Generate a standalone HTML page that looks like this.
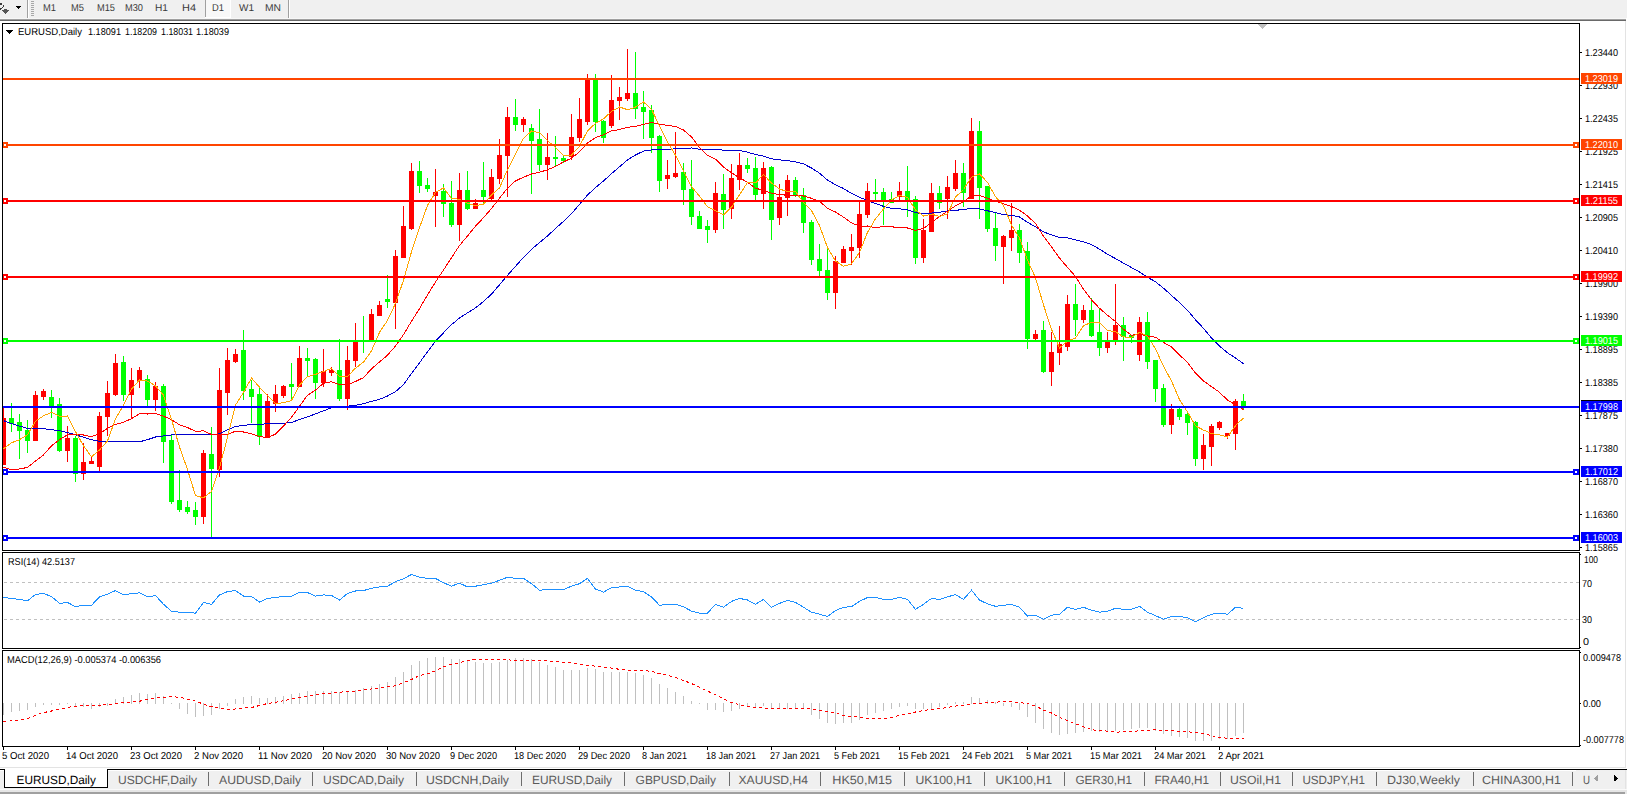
<!DOCTYPE html><html><head><meta charset="utf-8"><style>html,body{margin:0;padding:0;width:1627px;height:794px;overflow:hidden;background:#fff}text{font-family:"Liberation Sans", sans-serif;text-rendering:geometricPrecision}</style></head><body><svg width="1627" height="794" viewBox="0 0 1627 794" shape-rendering="crispEdges" style="position:absolute;left:0;top:0;font-family:'Liberation Sans', sans-serif">
<rect x="0" y="0" width="1627" height="794" fill="#ffffff"/>
<rect x="0" y="0" width="1627" height="18" fill="#F0F0F0"/>
<rect x="0" y="18" width="1626" height="1" fill="#F7F7F7"/>
<rect x="0" y="19" width="1626" height="1" fill="#A0A0A0"/>
<rect x="0" y="20" width="1626" height="1" fill="#696969"/>
<rect x="0" y="3" width="2" height="2" fill="#3C3C3C"/>
<rect x="3" y="5" width="1" height="2" fill="#3C3C3C"/>
<rect x="2" y="7" width="1" height="1" fill="#3C3C3C"/>
<rect x="1" y="8" width="1" height="1" fill="#3C3C3C"/>
<rect x="0" y="8" width="1" height="2" fill="#3C3C3C"/>
<rect x="4" y="9" width="3" height="1" fill="#555"/>
<rect x="2" y="10" width="7" height="1" fill="#555"/>
<rect x="3" y="11" width="5" height="1" fill="#555"/>
<rect x="4" y="12" width="3" height="1" fill="#555"/>
<rect x="5" y="13" width="1" height="1" fill="#555"/>
<path d="M16 6 H21 V7 H20 V8 H19 V9 H18 V8 H17 V7 H16 Z" fill="#000"/>
<rect x="27" y="0" width="1" height="18" fill="#A0A0A0"/>
<rect x="28" y="0" width="1" height="18" fill="#FFFFFF"/>
<rect x="31" y="1" width="3" height="1" fill="#A8A8A8"/>
<rect x="31" y="3" width="3" height="1" fill="#A8A8A8"/>
<rect x="31" y="5" width="3" height="1" fill="#A8A8A8"/>
<rect x="31" y="7" width="3" height="1" fill="#A8A8A8"/>
<rect x="31" y="9" width="3" height="1" fill="#A8A8A8"/>
<rect x="31" y="11" width="3" height="1" fill="#A8A8A8"/>
<rect x="31" y="13" width="3" height="1" fill="#A8A8A8"/>
<rect x="31" y="15" width="3" height="1" fill="#A8A8A8"/>
<rect x="205" y="0" width="1" height="17" fill="#A0A0A0"/>
<rect x="206" y="0" width="24" height="17" fill="#F8F8F8"/>
<rect x="230" y="0" width="1" height="18" fill="#FFFFFF"/>
<rect x="205" y="17" width="26" height="1" fill="#FFFFFF"/>
<rect x="288" y="0" width="1" height="18" fill="#A0A0A0"/>
<rect x="289" y="0" width="1" height="18" fill="#FFFFFF"/>
<text x="43.0" y="11" font-size="10" fill="#3A3A3A" textLength="12.99" lengthAdjust="spacingAndGlyphs">M1</text>
<text x="71.0" y="11" font-size="10" fill="#3A3A3A" textLength="12.99" lengthAdjust="spacingAndGlyphs">M5</text>
<text x="97.0" y="11" font-size="10" fill="#3A3A3A" textLength="18.0" lengthAdjust="spacingAndGlyphs">M15</text>
<text x="125.0" y="11" font-size="10" fill="#3A3A3A" textLength="18.0" lengthAdjust="spacingAndGlyphs">M30</text>
<text x="155.0" y="11" font-size="10" fill="#3A3A3A" textLength="12.98" lengthAdjust="spacingAndGlyphs">H1</text>
<text x="182.0" y="11" font-size="10" fill="#3A3A3A" textLength="13.98" lengthAdjust="spacingAndGlyphs">H4</text>
<text x="212.0" y="11" font-size="10" fill="#3A3A3A" textLength="11.98" lengthAdjust="spacingAndGlyphs">D1</text>
<text x="239.0" y="11" font-size="10" fill="#3A3A3A" textLength="15.0" lengthAdjust="spacingAndGlyphs">W1</text>
<text x="265.0" y="11" font-size="10" fill="#3A3A3A" textLength="16.0" lengthAdjust="spacingAndGlyphs">MN</text>
<rect x="1625" y="21" width="1" height="746" fill="#E3E3E3"/>
<defs><clipPath id="cm"><rect x="3" y="24" width="1576" height="526"/></clipPath><clipPath id="cr"><rect x="3" y="553" width="1576" height="95"/></clipPath><clipPath id="cd"><rect x="3" y="651" width="1576" height="95"/></clipPath></defs>
<g clip-path="url(#cm)">
<rect x="3" y="408" width="1" height="57" fill="#FF0000"/>
<rect x="1" y="418" width="5" height="47" fill="#FF0000"/>
<rect x="11" y="403" width="1" height="29" fill="#00FF00"/>
<rect x="9" y="418" width="5" height="6" fill="#00FF00"/>
<rect x="19" y="414" width="1" height="45" fill="#00FF00"/>
<rect x="17" y="422" width="5" height="9" fill="#00FF00"/>
<rect x="27" y="420" width="1" height="33" fill="#00FF00"/>
<rect x="25" y="430" width="5" height="11" fill="#00FF00"/>
<rect x="35" y="391" width="1" height="50" fill="#FF0000"/>
<rect x="33" y="395" width="5" height="46" fill="#FF0000"/>
<rect x="43" y="389" width="1" height="11" fill="#FF0000"/>
<rect x="41" y="391" width="5" height="6" fill="#FF0000"/>
<rect x="51" y="390" width="1" height="28" fill="#00FF00"/>
<rect x="49" y="397" width="5" height="10" fill="#00FF00"/>
<rect x="59" y="398" width="1" height="54" fill="#00FF00"/>
<rect x="57" y="404" width="5" height="47" fill="#00FF00"/>
<rect x="67" y="426" width="1" height="36" fill="#FF0000"/>
<rect x="65" y="438" width="5" height="13" fill="#FF0000"/>
<rect x="75" y="436" width="1" height="46" fill="#00FF00"/>
<rect x="73" y="438" width="5" height="36" fill="#00FF00"/>
<rect x="83" y="443" width="1" height="37" fill="#FF0000"/>
<rect x="81" y="462" width="5" height="12" fill="#FF0000"/>
<rect x="91" y="456" width="1" height="8" fill="#FF0000"/>
<rect x="89" y="461" width="5" height="3" fill="#FF0000"/>
<rect x="99" y="412" width="1" height="60" fill="#FF0000"/>
<rect x="97" y="416" width="5" height="51" fill="#FF0000"/>
<rect x="107" y="381" width="1" height="55" fill="#FF0000"/>
<rect x="105" y="393" width="5" height="24" fill="#FF0000"/>
<rect x="115" y="354" width="1" height="42" fill="#FF0000"/>
<rect x="113" y="363" width="5" height="32" fill="#FF0000"/>
<rect x="123" y="356" width="1" height="45" fill="#00FF00"/>
<rect x="121" y="362" width="5" height="33" fill="#00FF00"/>
<rect x="131" y="368" width="1" height="50" fill="#FF0000"/>
<rect x="129" y="380" width="5" height="15" fill="#FF0000"/>
<rect x="139" y="367" width="1" height="21" fill="#FF0000"/>
<rect x="137" y="370" width="5" height="11" fill="#FF0000"/>
<rect x="147" y="375" width="1" height="32" fill="#00FF00"/>
<rect x="145" y="379" width="5" height="21" fill="#00FF00"/>
<rect x="155" y="382" width="1" height="29" fill="#FF0000"/>
<rect x="153" y="386" width="5" height="14" fill="#FF0000"/>
<rect x="163" y="384" width="1" height="79" fill="#00FF00"/>
<rect x="161" y="386" width="5" height="56" fill="#00FF00"/>
<rect x="171" y="434" width="1" height="70" fill="#00FF00"/>
<rect x="169" y="440" width="5" height="62" fill="#00FF00"/>
<rect x="179" y="470" width="1" height="42" fill="#00FF00"/>
<rect x="177" y="500" width="5" height="10" fill="#00FF00"/>
<rect x="187" y="501" width="1" height="13" fill="#00FF00"/>
<rect x="185" y="507" width="5" height="5" fill="#00FF00"/>
<rect x="195" y="502" width="1" height="23" fill="#00FF00"/>
<rect x="193" y="510" width="5" height="7" fill="#00FF00"/>
<rect x="203" y="450" width="1" height="74" fill="#FF0000"/>
<rect x="201" y="453" width="5" height="64" fill="#FF0000"/>
<rect x="211" y="427" width="1" height="111" fill="#00FF00"/>
<rect x="209" y="454" width="5" height="15" fill="#00FF00"/>
<rect x="219" y="368" width="1" height="109" fill="#FF0000"/>
<rect x="217" y="390" width="5" height="80" fill="#FF0000"/>
<rect x="227" y="348" width="1" height="67" fill="#FF0000"/>
<rect x="225" y="360" width="5" height="33" fill="#FF0000"/>
<rect x="235" y="349" width="1" height="14" fill="#FF0000"/>
<rect x="233" y="354" width="5" height="8" fill="#FF0000"/>
<rect x="243" y="330" width="1" height="70" fill="#00FF00"/>
<rect x="241" y="350" width="5" height="41" fill="#00FF00"/>
<rect x="251" y="380" width="1" height="43" fill="#00FF00"/>
<rect x="249" y="389" width="5" height="8" fill="#00FF00"/>
<rect x="259" y="386" width="1" height="59" fill="#00FF00"/>
<rect x="257" y="394" width="5" height="43" fill="#00FF00"/>
<rect x="267" y="394" width="1" height="44" fill="#FF0000"/>
<rect x="265" y="401" width="5" height="37" fill="#FF0000"/>
<rect x="275" y="385" width="1" height="27" fill="#FF0000"/>
<rect x="273" y="394" width="5" height="10" fill="#FF0000"/>
<rect x="283" y="385" width="1" height="13" fill="#FF0000"/>
<rect x="281" y="386" width="5" height="10" fill="#FF0000"/>
<rect x="291" y="363" width="1" height="38" fill="#00FF00"/>
<rect x="289" y="384" width="5" height="3" fill="#00FF00"/>
<rect x="299" y="346" width="1" height="41" fill="#FF0000"/>
<rect x="297" y="358" width="5" height="29" fill="#FF0000"/>
<rect x="307" y="348" width="1" height="28" fill="#00FF00"/>
<rect x="305" y="358" width="5" height="3" fill="#00FF00"/>
<rect x="315" y="358" width="1" height="41" fill="#00FF00"/>
<rect x="313" y="359" width="5" height="24" fill="#00FF00"/>
<rect x="323" y="349" width="1" height="38" fill="#FF0000"/>
<rect x="321" y="371" width="5" height="12" fill="#FF0000"/>
<rect x="331" y="367" width="1" height="9" fill="#FF0000"/>
<rect x="329" y="370" width="5" height="3" fill="#FF0000"/>
<rect x="339" y="339" width="1" height="62" fill="#00FF00"/>
<rect x="337" y="370" width="5" height="29" fill="#00FF00"/>
<rect x="347" y="346" width="1" height="64" fill="#FF0000"/>
<rect x="345" y="360" width="5" height="39" fill="#FF0000"/>
<rect x="355" y="323" width="1" height="44" fill="#FF0000"/>
<rect x="353" y="342" width="5" height="19" fill="#FF0000"/>
<rect x="363" y="316" width="1" height="37" fill="#00FF00"/>
<rect x="361" y="340" width="5" height="2" fill="#00FF00"/>
<rect x="371" y="309" width="1" height="32" fill="#FF0000"/>
<rect x="369" y="314" width="5" height="27" fill="#FF0000"/>
<rect x="379" y="301" width="1" height="15" fill="#FF0000"/>
<rect x="377" y="305" width="5" height="11" fill="#FF0000"/>
<rect x="387" y="275" width="1" height="33" fill="#00FF00"/>
<rect x="385" y="299" width="5" height="3" fill="#00FF00"/>
<rect x="395" y="250" width="1" height="79" fill="#FF0000"/>
<rect x="393" y="256" width="5" height="47" fill="#FF0000"/>
<rect x="403" y="206" width="1" height="52" fill="#FF0000"/>
<rect x="401" y="226" width="5" height="32" fill="#FF0000"/>
<rect x="411" y="163" width="1" height="67" fill="#FF0000"/>
<rect x="409" y="171" width="5" height="58" fill="#FF0000"/>
<rect x="419" y="161" width="1" height="32" fill="#00FF00"/>
<rect x="417" y="171" width="5" height="15" fill="#00FF00"/>
<rect x="427" y="178" width="1" height="14" fill="#00FF00"/>
<rect x="425" y="185" width="5" height="4" fill="#00FF00"/>
<rect x="435" y="169" width="1" height="58" fill="#FF0000"/>
<rect x="433" y="192" width="5" height="4" fill="#FF0000"/>
<rect x="443" y="184" width="1" height="33" fill="#00FF00"/>
<rect x="441" y="191" width="5" height="13" fill="#00FF00"/>
<rect x="451" y="181" width="1" height="46" fill="#00FF00"/>
<rect x="449" y="203" width="5" height="22" fill="#00FF00"/>
<rect x="459" y="173" width="1" height="68" fill="#FF0000"/>
<rect x="457" y="190" width="5" height="35" fill="#FF0000"/>
<rect x="467" y="171" width="1" height="39" fill="#00FF00"/>
<rect x="465" y="190" width="5" height="19" fill="#00FF00"/>
<rect x="475" y="199" width="1" height="10" fill="#FF0000"/>
<rect x="473" y="203" width="5" height="6" fill="#FF0000"/>
<rect x="483" y="162" width="1" height="42" fill="#00FF00"/>
<rect x="481" y="190" width="5" height="7" fill="#00FF00"/>
<rect x="491" y="169" width="1" height="31" fill="#FF0000"/>
<rect x="489" y="177" width="5" height="22" fill="#FF0000"/>
<rect x="499" y="139" width="1" height="45" fill="#FF0000"/>
<rect x="497" y="155" width="5" height="24" fill="#FF0000"/>
<rect x="507" y="107" width="1" height="90" fill="#FF0000"/>
<rect x="505" y="117" width="5" height="39" fill="#FF0000"/>
<rect x="515" y="99" width="1" height="32" fill="#00FF00"/>
<rect x="513" y="117" width="5" height="8" fill="#00FF00"/>
<rect x="523" y="117" width="1" height="15" fill="#FF0000"/>
<rect x="521" y="119" width="5" height="6" fill="#FF0000"/>
<rect x="531" y="124" width="1" height="70" fill="#00FF00"/>
<rect x="529" y="128" width="5" height="13" fill="#00FF00"/>
<rect x="539" y="109" width="1" height="62" fill="#00FF00"/>
<rect x="537" y="139" width="5" height="26" fill="#00FF00"/>
<rect x="547" y="133" width="1" height="47" fill="#FF0000"/>
<rect x="545" y="157" width="5" height="8" fill="#FF0000"/>
<rect x="555" y="136" width="1" height="30" fill="#00FF00"/>
<rect x="553" y="157" width="5" height="2" fill="#00FF00"/>
<rect x="563" y="156" width="1" height="7" fill="#00FF00"/>
<rect x="561" y="158" width="5" height="3" fill="#00FF00"/>
<rect x="571" y="114" width="1" height="46" fill="#FF0000"/>
<rect x="569" y="137" width="5" height="20" fill="#FF0000"/>
<rect x="579" y="98" width="1" height="44" fill="#FF0000"/>
<rect x="577" y="119" width="5" height="19" fill="#FF0000"/>
<rect x="587" y="74" width="1" height="51" fill="#FF0000"/>
<rect x="585" y="80" width="5" height="42" fill="#FF0000"/>
<rect x="595" y="74" width="1" height="58" fill="#00FF00"/>
<rect x="593" y="80" width="5" height="42" fill="#00FF00"/>
<rect x="603" y="120" width="1" height="23" fill="#00FF00"/>
<rect x="601" y="121" width="5" height="17" fill="#00FF00"/>
<rect x="611" y="75" width="1" height="53" fill="#FF0000"/>
<rect x="609" y="100" width="5" height="26" fill="#FF0000"/>
<rect x="619" y="87" width="1" height="33" fill="#FF0000"/>
<rect x="617" y="97" width="5" height="4" fill="#FF0000"/>
<rect x="627" y="49" width="1" height="52" fill="#FF0000"/>
<rect x="625" y="93" width="5" height="6" fill="#FF0000"/>
<rect x="635" y="52" width="1" height="67" fill="#00FF00"/>
<rect x="633" y="93" width="5" height="16" fill="#00FF00"/>
<rect x="643" y="91" width="1" height="48" fill="#00FF00"/>
<rect x="641" y="107" width="5" height="5" fill="#00FF00"/>
<rect x="651" y="105" width="1" height="48" fill="#00FF00"/>
<rect x="649" y="110" width="5" height="28" fill="#00FF00"/>
<rect x="659" y="135" width="1" height="57" fill="#00FF00"/>
<rect x="657" y="136" width="5" height="45" fill="#00FF00"/>
<rect x="667" y="160" width="1" height="29" fill="#FF0000"/>
<rect x="665" y="175" width="5" height="4" fill="#FF0000"/>
<rect x="675" y="132" width="1" height="46" fill="#FF0000"/>
<rect x="673" y="173" width="5" height="4" fill="#FF0000"/>
<rect x="683" y="163" width="1" height="42" fill="#00FF00"/>
<rect x="681" y="172" width="5" height="18" fill="#00FF00"/>
<rect x="691" y="160" width="1" height="65" fill="#00FF00"/>
<rect x="689" y="189" width="5" height="28" fill="#00FF00"/>
<rect x="699" y="211" width="1" height="18" fill="#00FF00"/>
<rect x="697" y="216" width="5" height="13" fill="#00FF00"/>
<rect x="707" y="220" width="1" height="23" fill="#00FF00"/>
<rect x="705" y="226" width="5" height="4" fill="#00FF00"/>
<rect x="715" y="182" width="1" height="51" fill="#FF0000"/>
<rect x="713" y="193" width="5" height="37" fill="#FF0000"/>
<rect x="723" y="174" width="1" height="55" fill="#00FF00"/>
<rect x="721" y="194" width="5" height="16" fill="#00FF00"/>
<rect x="731" y="164" width="1" height="55" fill="#FF0000"/>
<rect x="729" y="178" width="5" height="31" fill="#FF0000"/>
<rect x="739" y="153" width="1" height="37" fill="#FF0000"/>
<rect x="737" y="165" width="5" height="15" fill="#FF0000"/>
<rect x="747" y="158" width="1" height="15" fill="#00FF00"/>
<rect x="745" y="165" width="5" height="4" fill="#00FF00"/>
<rect x="755" y="157" width="1" height="44" fill="#00FF00"/>
<rect x="753" y="168" width="5" height="27" fill="#00FF00"/>
<rect x="763" y="162" width="1" height="47" fill="#FF0000"/>
<rect x="761" y="168" width="5" height="26" fill="#FF0000"/>
<rect x="771" y="166" width="1" height="74" fill="#00FF00"/>
<rect x="769" y="167" width="5" height="53" fill="#00FF00"/>
<rect x="779" y="184" width="1" height="41" fill="#FF0000"/>
<rect x="777" y="197" width="5" height="21" fill="#FF0000"/>
<rect x="787" y="175" width="1" height="41" fill="#FF0000"/>
<rect x="785" y="180" width="5" height="18" fill="#FF0000"/>
<rect x="795" y="177" width="1" height="20" fill="#00FF00"/>
<rect x="793" y="180" width="5" height="16" fill="#00FF00"/>
<rect x="803" y="188" width="1" height="45" fill="#00FF00"/>
<rect x="801" y="195" width="5" height="28" fill="#00FF00"/>
<rect x="811" y="220" width="1" height="45" fill="#00FF00"/>
<rect x="809" y="222" width="5" height="38" fill="#00FF00"/>
<rect x="819" y="244" width="1" height="32" fill="#00FF00"/>
<rect x="817" y="259" width="5" height="12" fill="#00FF00"/>
<rect x="827" y="249" width="1" height="51" fill="#00FF00"/>
<rect x="825" y="270" width="5" height="23" fill="#00FF00"/>
<rect x="835" y="256" width="1" height="53" fill="#FF0000"/>
<rect x="833" y="261" width="5" height="32" fill="#FF0000"/>
<rect x="843" y="246" width="1" height="17" fill="#FF0000"/>
<rect x="841" y="249" width="5" height="14" fill="#FF0000"/>
<rect x="851" y="234" width="1" height="31" fill="#FF0000"/>
<rect x="849" y="247" width="5" height="4" fill="#FF0000"/>
<rect x="859" y="202" width="1" height="56" fill="#FF0000"/>
<rect x="857" y="214" width="5" height="34" fill="#FF0000"/>
<rect x="867" y="183" width="1" height="35" fill="#FF0000"/>
<rect x="865" y="191" width="5" height="24" fill="#FF0000"/>
<rect x="875" y="179" width="1" height="22" fill="#00FF00"/>
<rect x="873" y="192" width="5" height="2" fill="#00FF00"/>
<rect x="883" y="188" width="1" height="37" fill="#00FF00"/>
<rect x="881" y="192" width="5" height="9" fill="#00FF00"/>
<rect x="891" y="192" width="1" height="11" fill="#00FF00"/>
<rect x="889" y="199" width="5" height="4" fill="#00FF00"/>
<rect x="899" y="182" width="1" height="18" fill="#FF0000"/>
<rect x="897" y="191" width="5" height="6" fill="#FF0000"/>
<rect x="907" y="166" width="1" height="51" fill="#00FF00"/>
<rect x="905" y="191" width="5" height="10" fill="#00FF00"/>
<rect x="915" y="196" width="1" height="68" fill="#00FF00"/>
<rect x="913" y="199" width="5" height="59" fill="#00FF00"/>
<rect x="923" y="219" width="1" height="44" fill="#FF0000"/>
<rect x="921" y="230" width="5" height="28" fill="#FF0000"/>
<rect x="931" y="183" width="1" height="49" fill="#FF0000"/>
<rect x="929" y="193" width="5" height="39" fill="#FF0000"/>
<rect x="939" y="186" width="1" height="23" fill="#00FF00"/>
<rect x="937" y="193" width="5" height="10" fill="#00FF00"/>
<rect x="947" y="176" width="1" height="43" fill="#FF0000"/>
<rect x="945" y="187" width="5" height="12" fill="#FF0000"/>
<rect x="955" y="160" width="1" height="31" fill="#FF0000"/>
<rect x="953" y="173" width="5" height="16" fill="#FF0000"/>
<rect x="963" y="163" width="1" height="44" fill="#00FF00"/>
<rect x="961" y="173" width="5" height="20" fill="#00FF00"/>
<rect x="971" y="118" width="1" height="81" fill="#FF0000"/>
<rect x="969" y="131" width="5" height="68" fill="#FF0000"/>
<rect x="979" y="121" width="1" height="98" fill="#00FF00"/>
<rect x="977" y="131" width="5" height="57" fill="#00FF00"/>
<rect x="987" y="186" width="1" height="46" fill="#00FF00"/>
<rect x="985" y="186" width="5" height="43" fill="#00FF00"/>
<rect x="995" y="212" width="1" height="49" fill="#00FF00"/>
<rect x="993" y="228" width="5" height="18" fill="#00FF00"/>
<rect x="1003" y="235" width="1" height="49" fill="#FF0000"/>
<rect x="1001" y="236" width="5" height="11" fill="#FF0000"/>
<rect x="1011" y="203" width="1" height="48" fill="#FF0000"/>
<rect x="1009" y="230" width="5" height="8" fill="#FF0000"/>
<rect x="1019" y="224" width="1" height="39" fill="#00FF00"/>
<rect x="1017" y="230" width="5" height="23" fill="#00FF00"/>
<rect x="1027" y="242" width="1" height="107" fill="#00FF00"/>
<rect x="1025" y="251" width="5" height="88" fill="#00FF00"/>
<rect x="1035" y="330" width="1" height="11" fill="#FF0000"/>
<rect x="1033" y="334" width="5" height="5" fill="#FF0000"/>
<rect x="1043" y="321" width="1" height="52" fill="#00FF00"/>
<rect x="1041" y="330" width="5" height="42" fill="#00FF00"/>
<rect x="1051" y="332" width="1" height="54" fill="#FF0000"/>
<rect x="1049" y="352" width="5" height="20" fill="#FF0000"/>
<rect x="1059" y="326" width="1" height="39" fill="#FF0000"/>
<rect x="1057" y="344" width="5" height="9" fill="#FF0000"/>
<rect x="1067" y="295" width="1" height="56" fill="#FF0000"/>
<rect x="1065" y="304" width="5" height="43" fill="#FF0000"/>
<rect x="1075" y="284" width="1" height="52" fill="#00FF00"/>
<rect x="1073" y="304" width="5" height="16" fill="#00FF00"/>
<rect x="1083" y="305" width="1" height="18" fill="#FF0000"/>
<rect x="1081" y="310" width="5" height="10" fill="#FF0000"/>
<rect x="1091" y="298" width="1" height="39" fill="#00FF00"/>
<rect x="1089" y="310" width="5" height="26" fill="#00FF00"/>
<rect x="1099" y="308" width="1" height="48" fill="#00FF00"/>
<rect x="1097" y="332" width="5" height="16" fill="#00FF00"/>
<rect x="1107" y="332" width="1" height="21" fill="#FF0000"/>
<rect x="1105" y="342" width="5" height="6" fill="#FF0000"/>
<rect x="1115" y="284" width="1" height="61" fill="#FF0000"/>
<rect x="1113" y="325" width="5" height="16" fill="#FF0000"/>
<rect x="1123" y="317" width="1" height="44" fill="#00FF00"/>
<rect x="1121" y="325" width="5" height="12" fill="#00FF00"/>
<rect x="1131" y="335" width="1" height="8" fill="#00FF00"/>
<rect x="1129" y="335" width="5" height="3" fill="#00FF00"/>
<rect x="1139" y="317" width="1" height="44" fill="#FF0000"/>
<rect x="1137" y="322" width="5" height="33" fill="#FF0000"/>
<rect x="1147" y="312" width="1" height="57" fill="#00FF00"/>
<rect x="1145" y="322" width="5" height="40" fill="#00FF00"/>
<rect x="1155" y="360" width="1" height="42" fill="#00FF00"/>
<rect x="1153" y="360" width="5" height="29" fill="#00FF00"/>
<rect x="1163" y="384" width="1" height="43" fill="#00FF00"/>
<rect x="1161" y="388" width="5" height="37" fill="#00FF00"/>
<rect x="1171" y="404" width="1" height="30" fill="#FF0000"/>
<rect x="1169" y="409" width="5" height="16" fill="#FF0000"/>
<rect x="1179" y="408" width="1" height="12" fill="#00FF00"/>
<rect x="1177" y="409" width="5" height="8" fill="#00FF00"/>
<rect x="1187" y="412" width="1" height="23" fill="#00FF00"/>
<rect x="1185" y="414" width="5" height="9" fill="#00FF00"/>
<rect x="1195" y="421" width="1" height="45" fill="#00FF00"/>
<rect x="1193" y="422" width="5" height="37" fill="#00FF00"/>
<rect x="1203" y="434" width="1" height="36" fill="#FF0000"/>
<rect x="1201" y="445" width="5" height="14" fill="#FF0000"/>
<rect x="1211" y="424" width="1" height="42" fill="#FF0000"/>
<rect x="1209" y="426" width="5" height="21" fill="#FF0000"/>
<rect x="1219" y="421" width="1" height="9" fill="#FF0000"/>
<rect x="1217" y="422" width="5" height="6" fill="#FF0000"/>
<rect x="1227" y="433" width="1" height="6" fill="#FF0000"/>
<rect x="1225" y="433" width="5" height="3" fill="#FF0000"/>
<rect x="1235" y="399" width="1" height="51" fill="#FF0000"/>
<rect x="1233" y="401" width="5" height="33" fill="#FF0000"/>
<rect x="1243" y="394" width="1" height="15" fill="#00FF00"/>
<rect x="1241" y="401" width="5" height="6" fill="#00FF00"/>
<polyline points="3.5,420.6 11.5,423.6 19.5,426.2 27.5,428.3 35.5,428.7 43.5,428.7 51.5,429.7 59.5,430.7 67.5,432.7 75.5,434.7 83.5,437.3 91.5,439.7 99.5,441.2 107.5,441.8 115.5,441.8 123.5,441.8 131.5,441.8 139.5,441.8 147.5,439.7 155.5,437.0 163.5,436.0 171.5,435.0 179.5,434.5 187.5,434.5 195.5,434.5 203.5,434.5 211.5,434.5 219.5,433.9 227.5,429.8 235.5,426.4 243.5,425.4 251.5,424.5 259.5,424.7 267.5,423.4 275.5,423.4 283.5,423.2 291.5,422.5 299.5,419.5 307.5,416.9 315.5,413.9 323.5,410.8 331.5,407.8 339.5,407.2 347.5,406.1 355.5,405.4 363.5,403.6 371.5,401.4 379.5,399.3 387.5,396.0 395.5,391.7 403.5,384.5 411.5,373.5 419.5,362.7 427.5,352.0 435.5,341.1 443.5,332.8 451.5,324.7 459.5,318.0 467.5,312.9 475.5,307.9 483.5,301.5 491.5,294.1 499.5,284.8 507.5,275.3 515.5,266.3 523.5,257.4 531.5,249.2 539.5,242.7 547.5,235.9 555.5,228.5 563.5,221.4 571.5,213.7 579.5,204.4 587.5,195.0 595.5,187.7 603.5,180.9 611.5,173.7 619.5,166.8 627.5,159.9 635.5,155.0 643.5,151.1 651.5,150.0 659.5,149.8 667.5,149.4 675.5,148.8 683.5,148.3 691.5,148.0 699.5,149.3 707.5,150.0 715.5,149.6 723.5,150.1 731.5,150.1 739.5,150.4 747.5,152.2 755.5,154.5 763.5,156.1 771.5,158.8 779.5,159.9 787.5,160.6 795.5,161.9 803.5,163.9 811.5,168.0 819.5,173.1 827.5,180.1 835.5,184.8 843.5,188.5 851.5,193.4 859.5,197.3 867.5,200.6 875.5,203.4 883.5,206.4 891.5,208.5 899.5,208.9 907.5,209.7 915.5,212.5 923.5,213.9 931.5,213.1 939.5,212.3 947.5,210.9 955.5,210.2 963.5,209.7 971.5,208.1 979.5,208.8 987.5,210.8 995.5,212.5 1003.5,214.8 1011.5,215.2 1019.5,217.0 1027.5,222.3 1035.5,226.9 1043.5,231.9 1051.5,234.9 1059.5,237.4 1067.5,237.8 1075.5,239.8 1083.5,241.8 1091.5,244.7 1099.5,249.1 1107.5,254.2 1115.5,258.6 1123.5,263.1 1131.5,267.6 1139.5,272.0 1147.5,277.3 1155.5,281.7 1163.5,288.2 1171.5,295.4 1179.5,302.5 1187.5,310.3 1195.5,319.8 1203.5,328.3 1211.5,338.1 1219.5,346.0 1227.5,352.8 1235.5,358.0 1243.5,363.7" fill="none" stroke="#0000CD" stroke-width="1"/>
<polyline points="3.5,467.0 11.5,470.0 19.5,469.0 27.5,467.4 35.5,461.0 43.5,454.9 51.5,445.8 59.5,439.7 67.5,434.7 75.5,434.7 83.5,435.0 91.5,436.7 99.5,433.7 107.5,428.3 115.5,424.3 123.5,422.3 131.5,418.7 139.5,413.7 147.5,414.0 155.5,413.6 163.5,416.1 171.5,419.7 179.5,424.8 187.5,427.5 195.5,431.4 203.5,430.8 211.5,434.5 219.5,434.3 227.5,434.1 235.5,431.3 243.5,432.0 251.5,433.8 259.5,436.5 267.5,437.6 275.5,434.2 283.5,426.1 291.5,417.2 299.5,406.3 307.5,395.2 315.5,390.1 323.5,383.2 331.5,381.8 339.5,384.4 347.5,384.9 355.5,381.5 363.5,377.6 371.5,368.8 379.5,361.9 387.5,355.2 395.5,346.0 403.5,334.6 411.5,321.2 419.5,308.7 427.5,294.8 435.5,282.0 443.5,270.1 451.5,257.7 459.5,245.5 467.5,236.0 475.5,226.1 483.5,217.7 491.5,208.6 499.5,198.2 507.5,188.2 515.5,180.9 523.5,177.2 531.5,174.0 539.5,172.2 547.5,169.8 555.5,166.5 563.5,161.9 571.5,158.2 579.5,151.8 587.5,143.0 595.5,137.7 603.5,134.8 611.5,130.9 619.5,129.5 627.5,127.3 635.5,126.5 643.5,124.4 651.5,122.5 659.5,124.2 667.5,125.4 675.5,126.4 683.5,130.0 691.5,137.0 699.5,147.5 707.5,155.2 715.5,159.2 723.5,167.0 731.5,172.8 739.5,177.9 747.5,182.2 755.5,188.2 763.5,190.3 771.5,193.1 779.5,194.7 787.5,195.2 795.5,195.6 803.5,196.0 811.5,198.3 819.5,201.3 827.5,208.3 835.5,212.0 843.5,217.1 851.5,222.9 859.5,226.2 867.5,226.0 875.5,227.8 883.5,226.5 891.5,226.8 899.5,227.6 907.5,228.0 915.5,230.5 923.5,228.3 931.5,222.8 939.5,216.5 947.5,211.2 955.5,205.8 963.5,201.8 971.5,195.9 979.5,195.6 987.5,198.2 995.5,201.3 1003.5,203.8 1011.5,206.5 1019.5,210.2 1027.5,216.0 1035.5,223.5 1043.5,236.2 1051.5,246.9 1059.5,258.1 1067.5,267.4 1075.5,276.5 1083.5,289.3 1091.5,299.8 1099.5,308.3 1107.5,315.2 1115.5,321.6 1123.5,329.2 1131.5,335.3 1139.5,334.1 1147.5,336.0 1155.5,337.2 1163.5,342.4 1171.5,347.0 1179.5,355.0 1187.5,362.4 1195.5,373.0 1203.5,380.9 1211.5,386.6 1219.5,392.3 1227.5,400.1 1235.5,404.7 1243.5,409.6" fill="none" stroke="#FF0000" stroke-width="1"/>
<polyline points="3.5,448.8 11.5,442.8 19.5,439.7 27.5,434.7 35.5,421.2 43.5,415.8 51.5,412.4 59.5,416.4 67.5,416.0 75.5,431.6 83.5,445.8 91.5,456.8 99.5,450.0 107.5,441.0 115.5,418.9 123.5,405.3 131.5,389.1 139.5,379.9 147.5,381.1 155.5,385.8 163.5,395.2 171.5,419.3 179.5,447.1 187.5,469.5 195.5,495.5 203.5,497.9 211.5,491.4 219.5,467.7 227.5,437.5 235.5,405.1 243.5,392.4 251.5,378.0 259.5,387.2 267.5,395.4 275.5,403.5 283.5,402.8 291.5,400.6 299.5,384.9 307.5,376.7 315.5,374.4 323.5,371.5 331.5,368.4 339.5,376.3 347.5,376.3 355.5,368.2 363.5,362.1 371.5,350.9 379.5,332.3 387.5,320.5 395.5,303.3 403.5,280.3 411.5,251.8 419.5,227.8 427.5,205.3 435.5,192.4 443.5,187.9 451.5,198.4 459.5,199.3 467.5,203.3 475.5,205.7 483.5,204.2 491.5,194.8 499.5,187.9 507.5,169.7 515.5,153.8 523.5,138.4 531.5,131.0 539.5,132.7 547.5,140.6 555.5,147.5 563.5,155.6 571.5,155.1 579.5,146.2 587.5,130.8 595.5,123.4 603.5,118.9 611.5,111.4 619.5,107.0 627.5,109.7 635.5,107.1 643.5,101.9 651.5,109.3 659.5,125.8 667.5,142.2 675.5,155.2 683.5,170.8 691.5,186.6 699.5,196.2 707.5,206.9 715.5,210.9 723.5,214.9 731.5,207.2 739.5,194.7 747.5,182.6 755.5,182.9 763.5,174.7 771.5,182.9 779.5,189.1 787.5,191.5 795.5,191.6 803.5,202.5 811.5,210.6 819.5,225.4 827.5,247.7 835.5,260.9 843.5,266.3 851.5,263.8 859.5,252.5 867.5,232.3 875.5,218.8 883.5,209.0 891.5,200.0 899.5,195.5 907.5,197.3 915.5,210.0 923.5,216.0 931.5,214.1 939.5,216.5 947.5,213.8 955.5,197.1 963.5,189.5 971.5,177.1 979.5,174.0 987.5,182.3 995.5,196.7 1003.5,205.4 1011.5,225.2 1019.5,238.1 1027.5,260.1 1035.5,277.9 1043.5,304.9 1051.5,329.4 1059.5,348.0 1067.5,341.0 1075.5,338.0 1083.5,325.8 1091.5,322.3 1099.5,322.8 1107.5,330.5 1115.5,331.7 1123.5,336.9 1131.5,337.4 1139.5,332.4 1147.5,336.1 1155.5,348.8 1163.5,366.4 1171.5,380.9 1179.5,399.7 1187.5,412.0 1195.5,425.9 1203.5,430.1 1211.5,433.5 1219.5,434.9 1227.5,437.0 1235.5,425.7 1243.5,417.9" fill="none" stroke="#FFA500" stroke-width="1"/>
<rect x="3" y="78" width="1576" height="2" fill="#FF4500"/>
<rect x="3" y="144" width="1576" height="2" fill="#FF4500"/>
<rect x="2" y="142" width="6" height="6" fill="#FF4500"/>
<rect x="4" y="144" width="2" height="2" fill="#FFFFFF"/>
<rect x="1573" y="142" width="6" height="6" fill="#FF4500"/>
<rect x="1575" y="144" width="2" height="2" fill="#FFFFFF"/>
<rect x="3" y="200" width="1576" height="2" fill="#FF0000"/>
<rect x="2" y="198" width="6" height="6" fill="#FF0000"/>
<rect x="4" y="200" width="2" height="2" fill="#FFFFFF"/>
<rect x="1573" y="198" width="6" height="6" fill="#FF0000"/>
<rect x="1575" y="200" width="2" height="2" fill="#FFFFFF"/>
<rect x="3" y="276" width="1576" height="2" fill="#FF0000"/>
<rect x="2" y="274" width="6" height="6" fill="#FF0000"/>
<rect x="4" y="276" width="2" height="2" fill="#FFFFFF"/>
<rect x="1573" y="274" width="6" height="6" fill="#FF0000"/>
<rect x="1575" y="276" width="2" height="2" fill="#FFFFFF"/>
<rect x="3" y="340" width="1576" height="2" fill="#00FF00"/>
<rect x="2" y="338" width="6" height="6" fill="#00FF00"/>
<rect x="4" y="340" width="2" height="2" fill="#FFFFFF"/>
<rect x="1573" y="338" width="6" height="6" fill="#00FF00"/>
<rect x="1575" y="340" width="2" height="2" fill="#FFFFFF"/>
<rect x="3" y="406" width="1576" height="2" fill="#0000FF"/>
<rect x="3" y="471" width="1576" height="2" fill="#0000FF"/>
<rect x="2" y="469" width="6" height="6" fill="#0000FF"/>
<rect x="4" y="471" width="2" height="2" fill="#FFFFFF"/>
<rect x="1573" y="469" width="6" height="6" fill="#0000FF"/>
<rect x="1575" y="471" width="2" height="2" fill="#FFFFFF"/>
<rect x="3" y="537" width="1576" height="2" fill="#0000FF"/>
<rect x="2" y="535" width="6" height="6" fill="#0000FF"/>
<rect x="4" y="537" width="2" height="2" fill="#FFFFFF"/>
<rect x="1573" y="535" width="6" height="6" fill="#0000FF"/>
<rect x="1575" y="537" width="2" height="2" fill="#FFFFFF"/>
<path d="M1258 24 H1267 V25 H1266 V26 H1265 V27 H1264 V28 H1263 V29 H1262 V28 H1261 V27 H1260 V26 H1259 V25 H1258 Z" fill="#C0C0C0"/>
</g>
<rect x="2" y="23" width="1578" height="1" fill="#000"/>
<rect x="2" y="550" width="1578" height="1" fill="#000"/>
<rect x="2" y="23" width="1" height="528" fill="#000"/>
<rect x="1579" y="23" width="1" height="528" fill="#000"/>
<path d="M6 30 H13 V31 H12 V32 H11 V33 H10 V34 H9 V33 H8 V32 H7 V31 H6 Z" fill="#000"/>
<text x="18.0" y="35" font-size="10" fill="#000" textLength="63.98" lengthAdjust="spacingAndGlyphs">EURUSD,Daily</text>
<text x="88.0" y="35" font-size="10" fill="#000" textLength="33.0" lengthAdjust="spacingAndGlyphs">1.18091</text>
<text x="125.0" y="35" font-size="10" fill="#000" textLength="32.0" lengthAdjust="spacingAndGlyphs">1.18209</text>
<text x="161.0" y="35" font-size="10" fill="#000" textLength="32.0" lengthAdjust="spacingAndGlyphs">1.18031</text>
<text x="196.0" y="35" font-size="10" fill="#000" textLength="33.0" lengthAdjust="spacingAndGlyphs">1.18039</text>
<rect x="1580" y="52" width="2" height="1" fill="#000"/>
<text x="1585.0" y="56" font-size="10" fill="#000" textLength="33.0" lengthAdjust="spacingAndGlyphs">1.23440</text>
<rect x="1580" y="85" width="2" height="1" fill="#000"/>
<text x="1585.0" y="89" font-size="10" fill="#000" textLength="33.0" lengthAdjust="spacingAndGlyphs">1.22930</text>
<rect x="1580" y="118" width="2" height="1" fill="#000"/>
<text x="1585.0" y="122" font-size="10" fill="#000" textLength="33.0" lengthAdjust="spacingAndGlyphs">1.22435</text>
<rect x="1580" y="151" width="2" height="1" fill="#000"/>
<text x="1585.0" y="155" font-size="10" fill="#000" textLength="33.0" lengthAdjust="spacingAndGlyphs">1.21925</text>
<rect x="1580" y="184" width="2" height="1" fill="#000"/>
<text x="1585.0" y="188" font-size="10" fill="#000" textLength="33.0" lengthAdjust="spacingAndGlyphs">1.21415</text>
<rect x="1580" y="217" width="2" height="1" fill="#000"/>
<text x="1585.0" y="221" font-size="10" fill="#000" textLength="33.0" lengthAdjust="spacingAndGlyphs">1.20905</text>
<rect x="1580" y="250" width="2" height="1" fill="#000"/>
<text x="1585.0" y="254" font-size="10" fill="#000" textLength="33.0" lengthAdjust="spacingAndGlyphs">1.20410</text>
<rect x="1580" y="283" width="2" height="1" fill="#000"/>
<text x="1585.0" y="287" font-size="10" fill="#000" textLength="33.0" lengthAdjust="spacingAndGlyphs">1.19900</text>
<rect x="1580" y="316" width="2" height="1" fill="#000"/>
<text x="1585.0" y="320" font-size="10" fill="#000" textLength="33.0" lengthAdjust="spacingAndGlyphs">1.19390</text>
<rect x="1580" y="349" width="2" height="1" fill="#000"/>
<text x="1585.0" y="353" font-size="10" fill="#000" textLength="33.0" lengthAdjust="spacingAndGlyphs">1.18895</text>
<rect x="1580" y="382" width="2" height="1" fill="#000"/>
<text x="1585.0" y="386" font-size="10" fill="#000" textLength="33.0" lengthAdjust="spacingAndGlyphs">1.18385</text>
<rect x="1580" y="415" width="2" height="1" fill="#000"/>
<text x="1585.0" y="419" font-size="10" fill="#000" textLength="33.0" lengthAdjust="spacingAndGlyphs">1.17875</text>
<rect x="1580" y="448" width="2" height="1" fill="#000"/>
<text x="1585.0" y="452" font-size="10" fill="#000" textLength="33.0" lengthAdjust="spacingAndGlyphs">1.17380</text>
<rect x="1580" y="481" width="2" height="1" fill="#000"/>
<text x="1585.0" y="485" font-size="10" fill="#000" textLength="33.0" lengthAdjust="spacingAndGlyphs">1.16870</text>
<rect x="1580" y="514" width="2" height="1" fill="#000"/>
<text x="1585.0" y="518" font-size="10" fill="#000" textLength="33.0" lengthAdjust="spacingAndGlyphs">1.16360</text>
<rect x="1580" y="547" width="2" height="1" fill="#000"/>
<text x="1585.0" y="551" font-size="10" fill="#000" textLength="33.0" lengthAdjust="spacingAndGlyphs">1.15865</text>
<rect x="1581" y="400" width="41" height="11" fill="#000"/>
<rect x="1581" y="73" width="41" height="11" fill="#FF4500"/>
<text x="1585.0" y="82" font-size="10" fill="#FFFFFF" textLength="33.0" lengthAdjust="spacingAndGlyphs">1.23019</text>
<rect x="1581" y="139" width="41" height="11" fill="#FF4500"/>
<text x="1585.0" y="148" font-size="10" fill="#FFFFFF" textLength="33.0" lengthAdjust="spacingAndGlyphs">1.22010</text>
<rect x="1581" y="195" width="41" height="11" fill="#FF0000"/>
<text x="1585.0" y="204" font-size="10" fill="#FFFFFF" textLength="33.01" lengthAdjust="spacingAndGlyphs">1.21155</text>
<rect x="1581" y="271" width="41" height="11" fill="#FF0000"/>
<text x="1585.0" y="280" font-size="10" fill="#FFFFFF" textLength="33.0" lengthAdjust="spacingAndGlyphs">1.19992</text>
<rect x="1581" y="335" width="41" height="11" fill="#00FF00"/>
<text x="1585.0" y="344" font-size="10" fill="#FFFFFF" textLength="33.0" lengthAdjust="spacingAndGlyphs">1.19015</text>
<rect x="1581" y="401" width="41" height="11" fill="#0000FF"/>
<text x="1585.0" y="410" font-size="10" fill="#FFFFFF" textLength="33.0" lengthAdjust="spacingAndGlyphs">1.17998</text>
<rect x="1581" y="466" width="41" height="11" fill="#0000FF"/>
<text x="1585.0" y="475" font-size="10" fill="#FFFFFF" textLength="33.0" lengthAdjust="spacingAndGlyphs">1.17012</text>
<rect x="1581" y="532" width="41" height="11" fill="#0000FF"/>
<text x="1585.0" y="541" font-size="10" fill="#FFFFFF" textLength="33.0" lengthAdjust="spacingAndGlyphs">1.16003</text>
<g clip-path="url(#cr)">
<line x1="4" y1="582.5" x2="1579" y2="582.5" stroke="#C0C0C0" stroke-width="1" stroke-dasharray="3,3"/>
<line x1="4" y1="619.5" x2="1579" y2="619.5" stroke="#C0C0C0" stroke-width="1" stroke-dasharray="3,3"/>
<polyline points="3.5,597.5 11.5,598.4 19.5,599.4 27.5,600.8 35.5,594.5 43.5,593.5 51.5,596.5 59.5,603.4 67.5,602.4 75.5,606.7 83.5,605.3 91.5,605.3 99.5,596.9 107.5,594.1 115.5,590.6 123.5,594.9 131.5,593.5 139.5,592.9 147.5,596.9 155.5,595.5 163.5,604.3 171.5,611.2 179.5,612.2 187.5,612.2 195.5,613.2 203.5,602.4 211.5,604.3 219.5,594.9 227.5,591.6 235.5,590.6 243.5,596.1 251.5,596.5 259.5,602.0 267.5,598.4 275.5,597.5 283.5,596.5 291.5,596.1 299.5,592.1 307.5,592.5 315.5,596.1 323.5,594.9 331.5,595.5 339.5,600.0 347.5,593.5 355.5,591.0 363.5,590.6 371.5,588.2 379.5,587.0 387.5,586.2 395.5,581.7 403.5,578.8 411.5,574.4 419.5,577.2 427.5,578.4 435.5,578.4 443.5,582.7 451.5,586.2 459.5,583.1 467.5,587.0 475.5,586.2 483.5,584.7 491.5,583.1 499.5,580.3 507.5,577.2 515.5,578.4 523.5,578.4 531.5,583.7 539.5,590.2 547.5,589.6 555.5,589.6 563.5,589.6 571.5,586.2 579.5,583.7 587.5,578.4 595.5,589.0 603.5,592.1 611.5,587.6 619.5,587.0 627.5,586.2 635.5,590.2 643.5,591.6 651.5,596.9 659.5,605.3 667.5,604.3 675.5,604.3 683.5,606.7 691.5,611.2 699.5,613.2 707.5,613.2 715.5,604.3 723.5,607.3 731.5,601.4 739.5,598.4 747.5,600.0 755.5,604.3 763.5,599.4 771.5,607.3 779.5,603.4 787.5,600.4 795.5,602.4 803.5,607.3 811.5,612.2 819.5,614.2 827.5,616.5 835.5,610.6 843.5,607.3 851.5,606.7 859.5,601.4 867.5,597.5 875.5,597.5 883.5,599.4 891.5,599.4 899.5,597.5 907.5,599.4 915.5,609.3 923.5,604.3 931.5,598.4 939.5,599.4 947.5,596.9 955.5,594.5 963.5,599.4 971.5,590.2 979.5,600.0 987.5,603.9 995.5,606.3 1003.5,605.3 1011.5,604.3 1019.5,607.3 1027.5,616.1 1035.5,615.2 1043.5,619.1 1051.5,615.2 1059.5,614.2 1067.5,607.3 1075.5,609.3 1083.5,607.3 1091.5,610.2 1099.5,612.2 1107.5,611.2 1115.5,608.3 1123.5,609.3 1131.5,609.3 1139.5,606.3 1147.5,612.2 1155.5,615.7 1163.5,619.1 1171.5,616.5 1179.5,616.5 1187.5,617.7 1195.5,621.6 1203.5,617.7 1211.5,614.2 1219.5,613.2 1227.5,614.2 1235.5,607.3 1243.5,608.3" fill="none" stroke="#1E90FF" stroke-width="1"/>
</g>
<rect x="2" y="552" width="1578" height="1" fill="#000"/>
<rect x="2" y="648" width="1578" height="1" fill="#000"/>
<rect x="2" y="552" width="1" height="97" fill="#000"/>
<rect x="1579" y="552" width="1" height="97" fill="#000"/>
<text x="8.0" y="565" font-size="10" fill="#000" textLength="66.98" lengthAdjust="spacingAndGlyphs">RSI(14) 42.5137</text>
<text x="1584.0" y="563" font-size="10" fill="#000" textLength="13.99" lengthAdjust="spacingAndGlyphs">100</text>
<text x="1582.0" y="587" font-size="10" fill="#000" textLength="10.02" lengthAdjust="spacingAndGlyphs">70</text>
<text x="1582.0" y="623" font-size="10" fill="#000" textLength="10.02" lengthAdjust="spacingAndGlyphs">30</text>
<text x="1583.0" y="645" font-size="10" fill="#000" textLength="6.01" lengthAdjust="spacingAndGlyphs">0</text>
<rect x="1580" y="554" width="1" height="1" fill="#000"/>
<rect x="1580" y="647" width="1" height="1" fill="#000"/>
<g clip-path="url(#cd)">
<rect x="3" y="703" width="1" height="12" fill="#C0C0C0"/>
<rect x="11" y="703" width="1" height="9" fill="#C0C0C0"/>
<rect x="19" y="703" width="1" height="8" fill="#C0C0C0"/>
<rect x="27" y="703" width="1" height="7" fill="#C0C0C0"/>
<rect x="35" y="703" width="1" height="4" fill="#C0C0C0"/>
<rect x="43" y="703" width="1" height="2" fill="#C0C0C0"/>
<rect x="51" y="703" width="1" height="2" fill="#C0C0C0"/>
<rect x="59" y="703" width="1" height="2" fill="#C0C0C0"/>
<rect x="67" y="703" width="1" height="1" fill="#C0C0C0"/>
<rect x="75" y="703" width="1" height="4" fill="#C0C0C0"/>
<rect x="83" y="703" width="1" height="4" fill="#C0C0C0"/>
<rect x="91" y="703" width="1" height="6" fill="#C0C0C0"/>
<rect x="99" y="703" width="1" height="4" fill="#C0C0C0"/>
<rect x="107" y="703" width="1" height="3" fill="#C0C0C0"/>
<rect x="115" y="699" width="1" height="5" fill="#C0C0C0"/>
<rect x="123" y="697" width="1" height="7" fill="#C0C0C0"/>
<rect x="131" y="695" width="1" height="9" fill="#C0C0C0"/>
<rect x="139" y="693" width="1" height="11" fill="#C0C0C0"/>
<rect x="147" y="694" width="1" height="10" fill="#C0C0C0"/>
<rect x="155" y="693" width="1" height="11" fill="#C0C0C0"/>
<rect x="163" y="696" width="1" height="8" fill="#C0C0C0"/>
<rect x="171" y="703" width="1" height="1" fill="#C0C0C0"/>
<rect x="179" y="703" width="1" height="6" fill="#C0C0C0"/>
<rect x="187" y="703" width="1" height="11" fill="#C0C0C0"/>
<rect x="195" y="703" width="1" height="14" fill="#C0C0C0"/>
<rect x="203" y="703" width="1" height="13" fill="#C0C0C0"/>
<rect x="211" y="703" width="1" height="12" fill="#C0C0C0"/>
<rect x="219" y="703" width="1" height="6" fill="#C0C0C0"/>
<rect x="227" y="703" width="1" height="3" fill="#C0C0C0"/>
<rect x="235" y="699" width="1" height="5" fill="#C0C0C0"/>
<rect x="243" y="697" width="1" height="7" fill="#C0C0C0"/>
<rect x="251" y="696" width="1" height="8" fill="#C0C0C0"/>
<rect x="259" y="698" width="1" height="6" fill="#C0C0C0"/>
<rect x="267" y="698" width="1" height="6" fill="#C0C0C0"/>
<rect x="275" y="697" width="1" height="7" fill="#C0C0C0"/>
<rect x="283" y="696" width="1" height="8" fill="#C0C0C0"/>
<rect x="291" y="694" width="1" height="10" fill="#C0C0C0"/>
<rect x="299" y="693" width="1" height="11" fill="#C0C0C0"/>
<rect x="307" y="691" width="1" height="13" fill="#C0C0C0"/>
<rect x="315" y="691" width="1" height="13" fill="#C0C0C0"/>
<rect x="323" y="691" width="1" height="13" fill="#C0C0C0"/>
<rect x="331" y="691" width="1" height="13" fill="#C0C0C0"/>
<rect x="339" y="692" width="1" height="12" fill="#C0C0C0"/>
<rect x="347" y="692" width="1" height="12" fill="#C0C0C0"/>
<rect x="355" y="690" width="1" height="14" fill="#C0C0C0"/>
<rect x="363" y="688" width="1" height="16" fill="#C0C0C0"/>
<rect x="371" y="686" width="1" height="18" fill="#C0C0C0"/>
<rect x="379" y="684" width="1" height="20" fill="#C0C0C0"/>
<rect x="387" y="682" width="1" height="22" fill="#C0C0C0"/>
<rect x="395" y="677" width="1" height="27" fill="#C0C0C0"/>
<rect x="403" y="672" width="1" height="32" fill="#C0C0C0"/>
<rect x="411" y="665" width="1" height="39" fill="#C0C0C0"/>
<rect x="419" y="661" width="1" height="43" fill="#C0C0C0"/>
<rect x="427" y="658" width="1" height="46" fill="#C0C0C0"/>
<rect x="435" y="657" width="1" height="47" fill="#C0C0C0"/>
<rect x="443" y="657" width="1" height="47" fill="#C0C0C0"/>
<rect x="451" y="659" width="1" height="45" fill="#C0C0C0"/>
<rect x="459" y="659" width="1" height="45" fill="#C0C0C0"/>
<rect x="467" y="660" width="1" height="44" fill="#C0C0C0"/>
<rect x="475" y="662" width="1" height="42" fill="#C0C0C0"/>
<rect x="483" y="663" width="1" height="41" fill="#C0C0C0"/>
<rect x="491" y="663" width="1" height="41" fill="#C0C0C0"/>
<rect x="499" y="662" width="1" height="42" fill="#C0C0C0"/>
<rect x="507" y="660" width="1" height="44" fill="#C0C0C0"/>
<rect x="515" y="658" width="1" height="46" fill="#C0C0C0"/>
<rect x="523" y="658" width="1" height="46" fill="#C0C0C0"/>
<rect x="531" y="659" width="1" height="45" fill="#C0C0C0"/>
<rect x="539" y="662" width="1" height="42" fill="#C0C0C0"/>
<rect x="547" y="665" width="1" height="39" fill="#C0C0C0"/>
<rect x="555" y="667" width="1" height="37" fill="#C0C0C0"/>
<rect x="563" y="670" width="1" height="34" fill="#C0C0C0"/>
<rect x="571" y="670" width="1" height="34" fill="#C0C0C0"/>
<rect x="579" y="670" width="1" height="34" fill="#C0C0C0"/>
<rect x="587" y="668" width="1" height="36" fill="#C0C0C0"/>
<rect x="595" y="669" width="1" height="35" fill="#C0C0C0"/>
<rect x="603" y="672" width="1" height="32" fill="#C0C0C0"/>
<rect x="611" y="672" width="1" height="32" fill="#C0C0C0"/>
<rect x="619" y="672" width="1" height="32" fill="#C0C0C0"/>
<rect x="627" y="672" width="1" height="32" fill="#C0C0C0"/>
<rect x="635" y="673" width="1" height="31" fill="#C0C0C0"/>
<rect x="643" y="675" width="1" height="29" fill="#C0C0C0"/>
<rect x="651" y="678" width="1" height="26" fill="#C0C0C0"/>
<rect x="659" y="684" width="1" height="20" fill="#C0C0C0"/>
<rect x="667" y="688" width="1" height="16" fill="#C0C0C0"/>
<rect x="675" y="692" width="1" height="12" fill="#C0C0C0"/>
<rect x="683" y="696" width="1" height="8" fill="#C0C0C0"/>
<rect x="691" y="701" width="1" height="3" fill="#C0C0C0"/>
<rect x="699" y="703" width="1" height="1" fill="#C0C0C0"/>
<rect x="707" y="703" width="1" height="7" fill="#C0C0C0"/>
<rect x="715" y="703" width="1" height="7" fill="#C0C0C0"/>
<rect x="723" y="703" width="1" height="9" fill="#C0C0C0"/>
<rect x="731" y="703" width="1" height="8" fill="#C0C0C0"/>
<rect x="739" y="703" width="1" height="6" fill="#C0C0C0"/>
<rect x="747" y="703" width="1" height="4" fill="#C0C0C0"/>
<rect x="755" y="703" width="1" height="5" fill="#C0C0C0"/>
<rect x="763" y="703" width="1" height="3" fill="#C0C0C0"/>
<rect x="771" y="703" width="1" height="6" fill="#C0C0C0"/>
<rect x="779" y="703" width="1" height="6" fill="#C0C0C0"/>
<rect x="787" y="703" width="1" height="6" fill="#C0C0C0"/>
<rect x="795" y="703" width="1" height="6" fill="#C0C0C0"/>
<rect x="803" y="703" width="1" height="6" fill="#C0C0C0"/>
<rect x="811" y="703" width="1" height="12" fill="#C0C0C0"/>
<rect x="819" y="703" width="1" height="16" fill="#C0C0C0"/>
<rect x="827" y="703" width="1" height="20" fill="#C0C0C0"/>
<rect x="835" y="703" width="1" height="21" fill="#C0C0C0"/>
<rect x="843" y="703" width="1" height="20" fill="#C0C0C0"/>
<rect x="851" y="703" width="1" height="20" fill="#C0C0C0"/>
<rect x="859" y="703" width="1" height="17" fill="#C0C0C0"/>
<rect x="867" y="703" width="1" height="12" fill="#C0C0C0"/>
<rect x="875" y="703" width="1" height="10" fill="#C0C0C0"/>
<rect x="883" y="703" width="1" height="8" fill="#C0C0C0"/>
<rect x="891" y="703" width="1" height="6" fill="#C0C0C0"/>
<rect x="899" y="703" width="1" height="4" fill="#C0C0C0"/>
<rect x="907" y="703" width="1" height="3" fill="#C0C0C0"/>
<rect x="915" y="703" width="1" height="6" fill="#C0C0C0"/>
<rect x="923" y="703" width="1" height="6" fill="#C0C0C0"/>
<rect x="931" y="703" width="1" height="6" fill="#C0C0C0"/>
<rect x="939" y="703" width="1" height="4" fill="#C0C0C0"/>
<rect x="947" y="703" width="1" height="2" fill="#C0C0C0"/>
<rect x="955" y="702" width="1" height="2" fill="#C0C0C0"/>
<rect x="963" y="702" width="1" height="2" fill="#C0C0C0"/>
<rect x="971" y="697" width="1" height="7" fill="#C0C0C0"/>
<rect x="979" y="698" width="1" height="6" fill="#C0C0C0"/>
<rect x="987" y="700" width="1" height="4" fill="#C0C0C0"/>
<rect x="995" y="702" width="1" height="2" fill="#C0C0C0"/>
<rect x="1003" y="703" width="1" height="3" fill="#C0C0C0"/>
<rect x="1011" y="703" width="1" height="4" fill="#C0C0C0"/>
<rect x="1019" y="703" width="1" height="7" fill="#C0C0C0"/>
<rect x="1027" y="703" width="1" height="14" fill="#C0C0C0"/>
<rect x="1035" y="703" width="1" height="20" fill="#C0C0C0"/>
<rect x="1043" y="703" width="1" height="26" fill="#C0C0C0"/>
<rect x="1051" y="703" width="1" height="30" fill="#C0C0C0"/>
<rect x="1059" y="703" width="1" height="32" fill="#C0C0C0"/>
<rect x="1067" y="703" width="1" height="31" fill="#C0C0C0"/>
<rect x="1075" y="703" width="1" height="30" fill="#C0C0C0"/>
<rect x="1083" y="703" width="1" height="29" fill="#C0C0C0"/>
<rect x="1091" y="703" width="1" height="28" fill="#C0C0C0"/>
<rect x="1099" y="703" width="1" height="29" fill="#C0C0C0"/>
<rect x="1107" y="703" width="1" height="29" fill="#C0C0C0"/>
<rect x="1115" y="703" width="1" height="28" fill="#C0C0C0"/>
<rect x="1123" y="703" width="1" height="27" fill="#C0C0C0"/>
<rect x="1131" y="703" width="1" height="26" fill="#C0C0C0"/>
<rect x="1139" y="703" width="1" height="25" fill="#C0C0C0"/>
<rect x="1147" y="703" width="1" height="25" fill="#C0C0C0"/>
<rect x="1155" y="703" width="1" height="28" fill="#C0C0C0"/>
<rect x="1163" y="703" width="1" height="31" fill="#C0C0C0"/>
<rect x="1171" y="703" width="1" height="33" fill="#C0C0C0"/>
<rect x="1179" y="703" width="1" height="34" fill="#C0C0C0"/>
<rect x="1187" y="703" width="1" height="35" fill="#C0C0C0"/>
<rect x="1195" y="703" width="1" height="38" fill="#C0C0C0"/>
<rect x="1203" y="703" width="1" height="38" fill="#C0C0C0"/>
<rect x="1211" y="703" width="1" height="38" fill="#C0C0C0"/>
<rect x="1219" y="703" width="1" height="36" fill="#C0C0C0"/>
<rect x="1227" y="703" width="1" height="36" fill="#C0C0C0"/>
<rect x="1235" y="703" width="1" height="33" fill="#C0C0C0"/>
<rect x="1243" y="703" width="1" height="30" fill="#C0C0C0"/>
<polyline points="3.5,721.8 11.5,720.8 19.5,719.9 27.5,718.5 35.5,715.3 43.5,712.6 51.5,711.0 59.5,709.0 67.5,707.5 75.5,706.1 83.5,705.5 91.5,705.5 99.5,705.1 107.5,704.7 115.5,703.5 123.5,702.7 131.5,702.2 139.5,701.2 147.5,699.6 155.5,698.2 163.5,697.2 171.5,696.8 179.5,697.2 187.5,699.2 195.5,701.2 203.5,704.1 211.5,706.7 219.5,708.0 227.5,709.4 235.5,709.0 243.5,708.0 251.5,707.5 259.5,705.5 267.5,703.5 275.5,702.2 283.5,700.8 291.5,698.8 299.5,697.6 307.5,696.3 315.5,694.3 323.5,693.7 331.5,693.3 339.5,692.3 347.5,691.3 355.5,691.0 363.5,689.8 371.5,689.0 379.5,687.8 387.5,687.0 395.5,685.8 403.5,682.5 411.5,679.5 419.5,675.6 427.5,674.0 435.5,670.7 443.5,666.8 451.5,664.2 459.5,662.8 467.5,660.3 475.5,659.5 483.5,659.5 491.5,659.5 499.5,659.5 507.5,659.9 515.5,660.3 523.5,660.3 531.5,660.3 539.5,660.3 547.5,660.9 555.5,661.4 563.5,662.2 571.5,662.8 579.5,664.2 587.5,665.4 595.5,666.2 603.5,667.3 611.5,668.1 619.5,669.3 627.5,670.1 635.5,670.7 643.5,670.7 651.5,671.3 659.5,673.6 667.5,675.2 675.5,677.6 683.5,680.5 691.5,683.5 699.5,687.4 707.5,691.0 715.5,694.9 723.5,698.8 731.5,702.7 739.5,704.7 747.5,706.7 755.5,707.5 763.5,708.0 771.5,708.6 779.5,708.6 787.5,708.6 795.5,708.6 803.5,708.6 811.5,709.0 819.5,710.6 827.5,711.4 835.5,713.0 843.5,715.3 851.5,716.5 859.5,717.3 867.5,718.5 875.5,718.5 883.5,718.5 891.5,717.3 899.5,715.3 907.5,714.0 915.5,712.0 923.5,710.6 931.5,709.4 939.5,708.6 947.5,707.5 955.5,706.1 963.5,705.1 971.5,704.1 979.5,703.5 987.5,702.7 995.5,702.2 1003.5,701.6 1011.5,701.6 1019.5,702.7 1027.5,703.5 1035.5,706.1 1043.5,710.0 1051.5,713.0 1059.5,717.3 1067.5,720.8 1075.5,723.8 1083.5,726.7 1091.5,729.7 1099.5,730.7 1107.5,731.1 1115.5,732.3 1123.5,731.7 1131.5,731.7 1139.5,730.7 1147.5,730.7 1155.5,729.7 1163.5,730.7 1171.5,730.7 1179.5,731.7 1187.5,731.7 1195.5,732.6 1203.5,733.6 1211.5,735.6 1219.5,737.6 1227.5,738.2 1235.5,738.5 1243.5,738.5" fill="none" stroke="#FF0000" stroke-width="1" stroke-dasharray="3,3"/>
</g>
<rect x="2" y="650" width="1578" height="1" fill="#000"/>
<rect x="2" y="746" width="1578" height="1" fill="#000"/>
<rect x="2" y="650" width="1" height="97" fill="#000"/>
<rect x="1579" y="650" width="1" height="97" fill="#000"/>
<text x="7.0" y="663" font-size="10" fill="#000" textLength="154.01" lengthAdjust="spacingAndGlyphs">MACD(12,26,9) -0.005374 -0.006356</text>
<text x="1583.0" y="661" font-size="10" fill="#000" textLength="38.01" lengthAdjust="spacingAndGlyphs">0.009478</text>
<text x="1583.0" y="707" font-size="10" fill="#000" textLength="18.01" lengthAdjust="spacingAndGlyphs">0.00</text>
<text x="1583.0" y="743" font-size="10" fill="#000" textLength="40.99" lengthAdjust="spacingAndGlyphs">-0.007778</text>
<rect x="1580" y="652" width="1" height="1" fill="#000"/>
<rect x="1580" y="703" width="1" height="1" fill="#000"/>
<rect x="1580" y="745" width="1" height="1" fill="#000"/>
<rect x="3" y="747" width="1" height="3" fill="#000"/>
<text x="2.0" y="759" font-size="10" fill="#000" textLength="47.02" lengthAdjust="spacingAndGlyphs">5 Oct 2020</text>
<rect x="67" y="747" width="1" height="3" fill="#000"/>
<text x="66.0" y="759" font-size="10" fill="#000" textLength="51.98" lengthAdjust="spacingAndGlyphs">14 Oct 2020</text>
<rect x="131" y="747" width="1" height="3" fill="#000"/>
<text x="130.0" y="759" font-size="10" fill="#000" textLength="51.98" lengthAdjust="spacingAndGlyphs">23 Oct 2020</text>
<rect x="195" y="747" width="1" height="3" fill="#000"/>
<text x="194.0" y="759" font-size="10" fill="#000" textLength="49.0" lengthAdjust="spacingAndGlyphs">2 Nov 2020</text>
<rect x="259" y="747" width="1" height="3" fill="#000"/>
<text x="258.0" y="759" font-size="10" fill="#000" textLength="54.02" lengthAdjust="spacingAndGlyphs">11 Nov 2020</text>
<rect x="323" y="747" width="1" height="3" fill="#000"/>
<text x="322.0" y="759" font-size="10" fill="#000" textLength="54.01" lengthAdjust="spacingAndGlyphs">20 Nov 2020</text>
<rect x="387" y="747" width="1" height="3" fill="#000"/>
<text x="386.0" y="759" font-size="10" fill="#000" textLength="54.01" lengthAdjust="spacingAndGlyphs">30 Nov 2020</text>
<rect x="451" y="747" width="1" height="3" fill="#000"/>
<text x="450.0" y="759" font-size="10" fill="#000" textLength="47.0" lengthAdjust="spacingAndGlyphs">9 Dec 2020</text>
<rect x="515" y="747" width="1" height="3" fill="#000"/>
<text x="514.0" y="759" font-size="10" fill="#000" textLength="52.01" lengthAdjust="spacingAndGlyphs">18 Dec 2020</text>
<rect x="579" y="747" width="1" height="3" fill="#000"/>
<text x="578.0" y="759" font-size="10" fill="#000" textLength="52.01" lengthAdjust="spacingAndGlyphs">29 Dec 2020</text>
<rect x="643" y="747" width="1" height="3" fill="#000"/>
<text x="642.0" y="759" font-size="10" fill="#000" textLength="44.99" lengthAdjust="spacingAndGlyphs">8 Jan 2021</text>
<rect x="707" y="747" width="1" height="3" fill="#000"/>
<text x="706.0" y="759" font-size="10" fill="#000" textLength="50.0" lengthAdjust="spacingAndGlyphs">18 Jan 2021</text>
<rect x="771" y="747" width="1" height="3" fill="#000"/>
<text x="770.0" y="759" font-size="10" fill="#000" textLength="50.0" lengthAdjust="spacingAndGlyphs">27 Jan 2021</text>
<rect x="835" y="747" width="1" height="3" fill="#000"/>
<text x="834.0" y="759" font-size="10" fill="#000" textLength="46.0" lengthAdjust="spacingAndGlyphs">5 Feb 2021</text>
<rect x="899" y="747" width="1" height="3" fill="#000"/>
<text x="898.0" y="759" font-size="10" fill="#000" textLength="52.01" lengthAdjust="spacingAndGlyphs">15 Feb 2021</text>
<rect x="963" y="747" width="1" height="3" fill="#000"/>
<text x="962.0" y="759" font-size="10" fill="#000" textLength="52.01" lengthAdjust="spacingAndGlyphs">24 Feb 2021</text>
<rect x="1027" y="747" width="1" height="3" fill="#000"/>
<text x="1026.0" y="759" font-size="10" fill="#000" textLength="45.99" lengthAdjust="spacingAndGlyphs">5 Mar 2021</text>
<rect x="1091" y="747" width="1" height="3" fill="#000"/>
<text x="1090.0" y="759" font-size="10" fill="#000" textLength="52.0" lengthAdjust="spacingAndGlyphs">15 Mar 2021</text>
<rect x="1155" y="747" width="1" height="3" fill="#000"/>
<text x="1154.0" y="759" font-size="10" fill="#000" textLength="52.0" lengthAdjust="spacingAndGlyphs">24 Mar 2021</text>
<rect x="1219" y="747" width="1" height="3" fill="#000"/>
<text x="1218.0" y="759" font-size="10" fill="#000" textLength="45.98" lengthAdjust="spacingAndGlyphs">2 Apr 2021</text>
<rect x="0" y="767" width="1626" height="1" fill="#E3E3E3"/>
<rect x="0" y="769" width="1627" height="1" fill="#000"/>
<rect x="0" y="770" width="1627" height="19" fill="#F0F0F0"/>
<rect x="0" y="770" width="1626" height="1" fill="#FFFFFF"/>
<rect x="0" y="789" width="1627" height="1" fill="#FAFAFA"/>
<rect x="0" y="790" width="1627" height="4" fill="#E6E6E6"/>
<rect x="0" y="792" width="1625" height="2" fill="#A0A0A0"/>
<rect x="4" y="769" width="104" height="19" fill="#000"/>
<rect x="5" y="769" width="102" height="18" fill="#FFFFFF"/>
<text x="16.6" y="784" font-size="12" fill="#000" textLength="79.3" lengthAdjust="spacingAndGlyphs">EURUSD,Daily</text>
<text x="118" y="784" font-size="12" fill="#5A5A5A" textLength="79" lengthAdjust="spacingAndGlyphs">USDCHF,Daily</text>
<text x="219" y="784" font-size="12" fill="#5A5A5A" textLength="82" lengthAdjust="spacingAndGlyphs">AUDUSD,Daily</text>
<text x="323" y="784" font-size="12" fill="#5A5A5A" textLength="81" lengthAdjust="spacingAndGlyphs">USDCAD,Daily</text>
<text x="426" y="784" font-size="12" fill="#5A5A5A" textLength="83" lengthAdjust="spacingAndGlyphs">USDCNH,Daily</text>
<text x="532" y="784" font-size="12" fill="#5A5A5A" textLength="80" lengthAdjust="spacingAndGlyphs">EURUSD,Daily</text>
<text x="635.6" y="784" font-size="12" fill="#5A5A5A" textLength="80.4" lengthAdjust="spacingAndGlyphs">GBPUSD,Daily</text>
<text x="738.5" y="784" font-size="12" fill="#5A5A5A" textLength="69.5" lengthAdjust="spacingAndGlyphs">XAUUSD,H4</text>
<text x="832.3" y="784" font-size="12" fill="#5A5A5A" textLength="59.7" lengthAdjust="spacingAndGlyphs">HK50,M15</text>
<text x="915.4" y="784" font-size="12" fill="#5A5A5A" textLength="56.6" lengthAdjust="spacingAndGlyphs">UK100,H1</text>
<text x="995.4" y="784" font-size="12" fill="#5A5A5A" textLength="56.6" lengthAdjust="spacingAndGlyphs">UK100,H1</text>
<text x="1075.4" y="784" font-size="12" fill="#5A5A5A" textLength="56.6" lengthAdjust="spacingAndGlyphs">GER30,H1</text>
<text x="1154.4" y="784" font-size="12" fill="#5A5A5A" textLength="54.6" lengthAdjust="spacingAndGlyphs">FRA40,H1</text>
<text x="1230" y="784" font-size="12" fill="#5A5A5A" textLength="51" lengthAdjust="spacingAndGlyphs">USOil,H1</text>
<text x="1302.4" y="784" font-size="12" fill="#5A5A5A" textLength="62.6" lengthAdjust="spacingAndGlyphs">USDJPY,H1</text>
<text x="1387" y="784" font-size="12" fill="#5A5A5A" textLength="73" lengthAdjust="spacingAndGlyphs">DJ30,Weekly</text>
<text x="1482" y="784" font-size="12" fill="#5A5A5A" textLength="79" lengthAdjust="spacingAndGlyphs">CHINA300,H1</text>
<rect x="208" y="772" width="1" height="14" fill="#6D6D6D"/>
<rect x="312" y="772" width="1" height="14" fill="#6D6D6D"/>
<rect x="416" y="772" width="1" height="14" fill="#6D6D6D"/>
<rect x="521" y="772" width="1" height="14" fill="#6D6D6D"/>
<rect x="624" y="772" width="1" height="14" fill="#6D6D6D"/>
<rect x="729" y="772" width="1" height="14" fill="#6D6D6D"/>
<rect x="820" y="772" width="1" height="14" fill="#6D6D6D"/>
<rect x="904" y="772" width="1" height="14" fill="#6D6D6D"/>
<rect x="984" y="772" width="1" height="14" fill="#6D6D6D"/>
<rect x="1064" y="772" width="1" height="14" fill="#6D6D6D"/>
<rect x="1144" y="772" width="1" height="14" fill="#6D6D6D"/>
<rect x="1220" y="772" width="1" height="14" fill="#6D6D6D"/>
<rect x="1292" y="772" width="1" height="14" fill="#6D6D6D"/>
<rect x="1376" y="772" width="1" height="14" fill="#6D6D6D"/>
<rect x="1473" y="772" width="1" height="14" fill="#6D6D6D"/>
<rect x="1572" y="772" width="1" height="14" fill="#6D6D6D"/>
<rect x="1576" y="770" width="50" height="19" fill="#F0F0F0"/>
<text x="1583.0" y="784" font-size="12" fill="#5A5A5A" textLength="7.02" lengthAdjust="spacingAndGlyphs">U</text>
<rect x="1597" y="775" width="1" height="1" fill="#A0A0A0"/>
<rect x="1614" y="775" width="1" height="1" fill="#000"/>
<rect x="1596" y="776" width="2" height="1" fill="#A0A0A0"/>
<rect x="1614" y="776" width="2" height="1" fill="#000"/>
<rect x="1595" y="777" width="3" height="1" fill="#A0A0A0"/>
<rect x="1614" y="777" width="3" height="1" fill="#000"/>
<rect x="1594" y="778" width="4" height="1" fill="#A0A0A0"/>
<rect x="1614" y="778" width="4" height="1" fill="#000"/>
<rect x="1595" y="779" width="3" height="1" fill="#A0A0A0"/>
<rect x="1614" y="779" width="3" height="1" fill="#000"/>
<rect x="1596" y="780" width="2" height="1" fill="#A0A0A0"/>
<rect x="1614" y="780" width="2" height="1" fill="#000"/>
<rect x="1625" y="770" width="1" height="19" fill="#E3E3E3"/>
</svg></body></html>
